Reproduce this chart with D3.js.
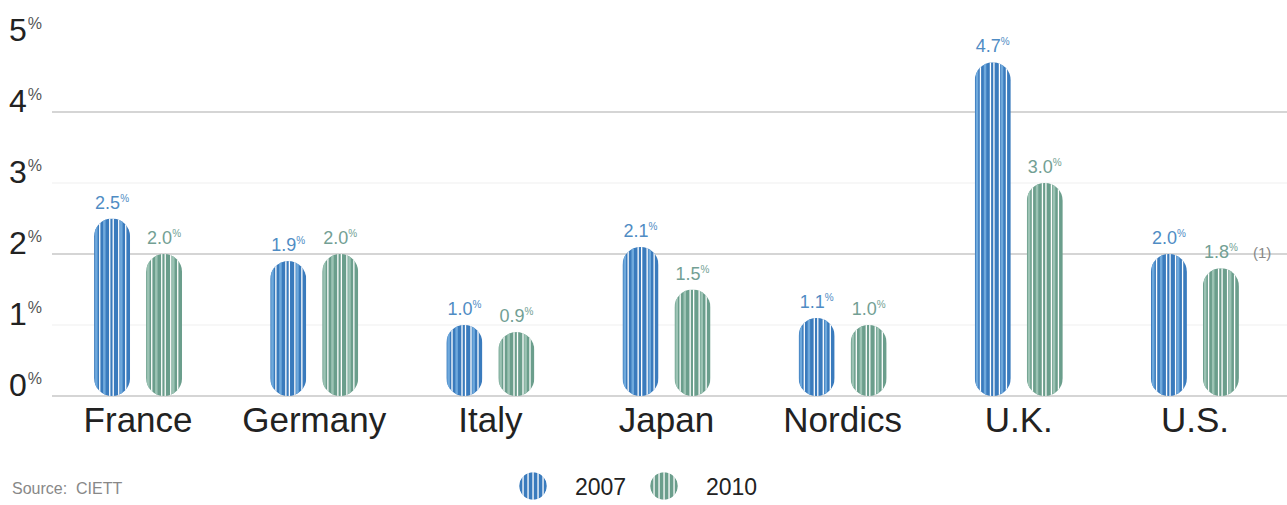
<!DOCTYPE html>
<html>
<head>
<meta charset="utf-8">
<script src="https://cdn.jsdelivr.net/npm/d3@7"></script>
<style>
    body { margin: 0; background: #fff; }
    svg { display: block; font-family: "Liberation Sans", Arial, sans-serif; }
</style>
</head>
<body>
<div id="chart"></div>
<script>
const countries = ['France', 'Germany', 'Italy', 'Japan', 'Nordics', 'U.K.', 'U.S.'];
const seriesNames = ['2007', '2010'];
const values2007 = [2.5, 1.9, 1.0, 2.1, 1.1, 4.7, 2.0];
const values2010 = [2.0, 2.0, 0.9, 1.5, 1.0, 3.0, 1.8];
const yTicks = [0, 1, 2, 3, 4, 5];
const majorGrid = [0, 2, 4];
const minorGrid = [1, 3];

const colors = { '2007': '#3a7bbd', '2010': '#6b9e8c' };
const stripeColors = { '2007': '#6fa9dc', '2010': '#9cc3b4' };
const labelColors = { '2007': '#4f8cc4', '2010': '#739f94' };

const width = 1287;
const height = 505;

const svg = d3.select('#chart')
    .append('svg')
    .attr('width', width)
    .attr('height', height);

const y = d3.scaleLinear().domain([0, 5]).range([396, 41]);
const x0 = d3.scaleBand().domain(countries).range([50, 1283]);
const x1 = d3.scaleBand().domain(seriesNames).range([0, 88]).paddingInner(16 / 52);

// grid lines
svg.selectAll('.minor')
    .data(minorGrid)
    .enter().append('line')
    .attr('x1', 52).attr('x2', width)
    .attr('y1', d => y(d)).attr('y2', d => y(d))
    .attr('stroke', '#efefef')
    .attr('stroke-width', 1);

svg.selectAll('.major')
    .data(majorGrid)
    .enter().append('line')
    .attr('x1', 52).attr('x2', width)
    .attr('y1', d => y(d)).attr('y2', d => y(d))
    .attr('stroke', '#ababab')
    .attr('stroke-width', 1.2);

// y labels
const yLab = svg.selectAll('.yLabel')
    .data(yTicks)
    .enter().append('text')
    .attr('x', 9)
    .attr('y', d => y(d))
    .attr('fill', '#222');
yLab.append('tspan').attr('font-size', 32).text(d => d);
yLab.append('tspan').attr('font-size', 16).attr('dx', 1).attr('dy', -12).attr('fill', '#555').text('%');

// bars
const rows = [];
countries.forEach((c, i) => {
    rows.push({ country: c, series: '2007', value: values2007[i] });
    rows.push({ country: c, series: '2010', value: values2010[i] });
});

const barX = d => x0(d.country) + x0.bandwidth() / 2 - 44 + x1(d.series);
const bw = x1.bandwidth();
const defs = svg.append('defs');

rows.forEach((d, i) => {
    const bx = barX(d);
    const by = y(d.value);
    const bh = y(0) - by;
    defs.append('clipPath').attr('id', 'clip' + i)
        .append('rect')
        .attr('x', bx).attr('y', by)
        .attr('width', bw).attr('height', bh)
        .attr('rx', bw / 2).attr('ry', bw / 2);

    const g = svg.append('g').attr('clip-path', 'url(#clip' + i + ')');
    g.append('rect')
        .attr('x', bx).attr('y', by)
        .attr('width', bw).attr('height', bh)
        .attr('fill', colors[d.series]);

    // light stripes
    [1, 9, 26].forEach(o => {
        g.append('rect')
            .attr('x', bx + o).attr('y', by)
            .attr('width', 2.5).attr('height', bh)
            .attr('fill', stripeColors[d.series]);
    });
    // white stripes
    [5, 15, 18.5, 24, 31].forEach(o => {
        g.append('rect')
            .attr('x', bx + o).attr('y', by)
            .attr('width', 1.3).attr('height', bh)
            .attr('fill', '#fff');
    });

    const t = svg.append('text')
        .attr('x', bx + bw / 2)
        .attr('y', by - 10)
        .attr('text-anchor', 'middle')
        .attr('fill', labelColors[d.series]);
    t.append('tspan').attr('font-size', 18).text(d.value.toFixed(1));
    t.append('tspan').attr('font-size', 10).attr('dy', -7).text('%');
    if (d.country === 'U.S.' && d.series === '2010') {
        svg.append('text')
            .attr('x', bx + bw + 14)
            .attr('y', by - 10)
            .attr('font-size', 15)
            .attr('fill', '#888')
            .text('(1)');
    }
});

// category labels
svg.selectAll('.xLabel')
    .data(countries)
    .enter().append('text')
    .attr('x', d => x0(d) + x0.bandwidth() / 2)
    .attr('y', 432)
    .attr('text-anchor', 'middle')
    .attr('font-size', 35)
    .attr('fill', '#222')
    .text(d => d);

// legend
const legend = svg.selectAll('.legend')
    .data(seriesNames)
    .enter().append('g')
    .attr('transform', (d, i) => 'translate(' + (533 + i * 131) + ',486)');

legend.each(function (d, i) {
    const g = d3.select(this);
    g.append('circle').attr('r', 14).attr('fill', colors[d]);
    [-10, -5, 0, 5, 10].forEach(o => {
        g.append('rect')
            .attr('x', o - 0.6).attr('y', -14)
            .attr('width', 1.3).attr('height', 28)
            .attr('fill', '#fff');
    });
    g.append('circle').attr('r', 14.5).attr('fill', 'none').attr('stroke', '#fff').attr('stroke-width', 1.5);
    g.append('text')
        .attr('x', 42)
        .attr('y', 9)
        .attr('font-size', 23)
        .attr('fill', '#222')
        .text(d);
});

// source
svg.append('text')
    .attr('x', 12)
    .attr('y', 494)
    .attr('font-size', 16)
    .attr('fill', '#888')
    .attr('xml:space', 'preserve')
    .text('Source:  CIETT');
</script>
</body>
</html>
